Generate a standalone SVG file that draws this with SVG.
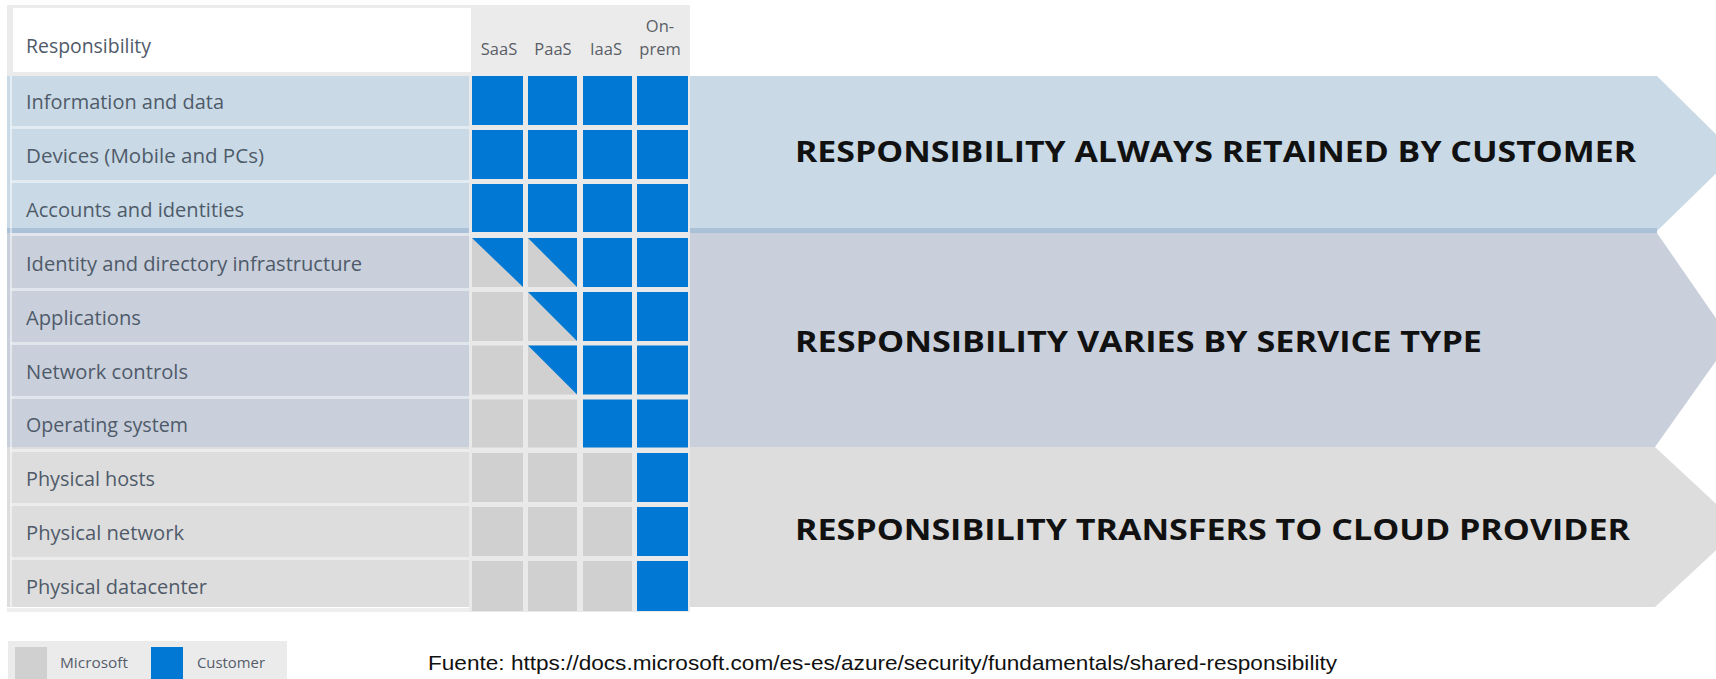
<svg xmlns="http://www.w3.org/2000/svg" width="1716" height="679" viewBox="0 0 1716 679">
<style>
.lbl{font-family:"Open Sans","Noto Sans",sans-serif;font-size:19.5px;fill:#4f5a69}
.col{font-family:"Open Sans","Noto Sans",sans-serif;font-size:16.5px;fill:#5a5e66;text-anchor:middle}
.head{font-family:"Open Sans","Noto Sans",sans-serif;font-size:29px;font-weight:700;fill:#111}
.leg{font-family:"Open Sans","Noto Sans",sans-serif;font-size:15px;fill:#555d6b}
.c{fill:#0078d4}
.g{fill:#d0d0d0}
.sep{fill:#ffffff;fill-opacity:0.45}
</style>
<rect width="1716" height="679" fill="#ffffff"/>

<g id="bands">
  <polygon id="band-customer" points="7,76 1657,76 1736,154 1657,231 7,231" fill="#c9dae6"/>
  <polygon id="band-varies" points="7,233 1657,233 1731,340 1655,447 7,447" fill="#c9d0dc"/>
  <polygon id="band-provider" points="7,447 1655,447 1741,527 1655,607 7,607" fill="#dddddd"/>
  <rect x="7" y="228" width="1650" height="5" fill="#aac1d7"/>
</g>

<g id="header">
  <rect x="7" y="5" width="683" height="71" fill="#ebebeb"/>
  <rect x="13" y="8" width="458" height="64" fill="#ffffff"/>
  <text class="lbl" x="26" y="53" textLength="125" lengthAdjust="spacingAndGlyphs">Responsibility</text>
  <text class="col" x="499" y="55">SaaS</text>
  <text class="col" x="553" y="55">PaaS</text>
  <text class="col" x="606" y="55">IaaS</text>
  <text class="col" x="660" y="32">On-</text>
  <text class="col" x="660" y="55">prem</text>
</g>

<g id="row-separators">
  <rect x="10" y="76" width="2" height="531" fill="#ffffff" fill-opacity="0.5"/>
  <rect class="sep" x="11" y="126" width="460" height="3"/>
  <rect class="sep" x="11" y="180" width="460" height="3"/>
  <rect class="sep" x="11" y="233" width="460" height="3"/>
  <rect class="sep" x="11" y="288" width="460" height="3"/>
  <rect class="sep" x="11" y="342" width="460" height="3"/>
  <rect class="sep" x="11" y="396" width="460" height="3"/>
  <rect class="sep" x="11" y="449" width="460" height="3"/>
  <rect class="sep" x="11" y="503" width="460" height="3"/>
  <rect class="sep" x="11" y="557" width="460" height="3"/>
  <rect x="7" y="608" width="683" height="4" fill="#eeeeee"/>
</g>

<g id="grid">
  <rect x="469" y="76" width="221" height="536" fill="#e9e9e9"/>
</g>

<g id="row-information">
  <text class="lbl" x="26" y="109" textLength="198" lengthAdjust="spacingAndGlyphs">Information and data</text>
  <rect class="c" x="472" y="76" width="51" height="49"/><rect class="c" x="528" y="76" width="49" height="49"/><rect class="c" x="583" y="76" width="49" height="49"/><rect class="c" x="637" y="76" width="51" height="49"/>
</g>
<g id="row-devices">
  <text class="lbl" x="26" y="163" textLength="238" lengthAdjust="spacingAndGlyphs">Devices (Mobile and PCs)</text>
  <rect class="c" x="472" y="130" width="51" height="49"/><rect class="c" x="528" y="130" width="49" height="49"/><rect class="c" x="583" y="130" width="49" height="49"/><rect class="c" x="637" y="130" width="51" height="49"/>
</g>
<g id="row-accounts">
  <text class="lbl" x="26" y="217" textLength="218" lengthAdjust="spacingAndGlyphs">Accounts and identities</text>
  <rect class="c" x="472" y="184" width="51" height="48"/><rect class="c" x="528" y="184" width="49" height="48"/><rect class="c" x="583" y="184" width="49" height="48"/><rect class="c" x="637" y="184" width="51" height="48"/>
</g>
<g id="row-identity">
  <text class="lbl" x="26" y="271" textLength="336" lengthAdjust="spacingAndGlyphs">Identity and directory infrastructure</text>
  <rect class="g" x="472" y="238" width="51" height="49"/><polygon class="c" points="472,238 523,238 523,287"/>
  <rect class="g" x="528" y="238" width="49" height="49"/><polygon class="c" points="528,238 577,238 577,287"/>
  <rect class="c" x="583" y="238" width="49" height="49"/><rect class="c" x="637" y="238" width="51" height="49"/>
</g>
<g id="row-applications">
  <text class="lbl" x="26" y="325" textLength="115" lengthAdjust="spacingAndGlyphs">Applications</text>
  <rect class="g" x="472" y="292" width="51" height="49"/>
  <rect class="g" x="528" y="292" width="49" height="49"/><polygon class="c" points="528,292 577,292 577,341"/>
  <rect class="c" x="583" y="292" width="49" height="49"/><rect class="c" x="637" y="292" width="51" height="49"/>
</g>
<g id="row-network">
  <text class="lbl" x="26" y="379" textLength="162" lengthAdjust="spacingAndGlyphs">Network controls</text>
  <rect class="g" x="472" y="345.5" width="51" height="49"/>
  <rect class="g" x="528" y="345.5" width="49" height="49"/><polygon class="c" points="528,345.5 577,345.5 577,394.5"/>
  <rect class="c" x="583" y="345.5" width="49" height="49"/><rect class="c" x="637" y="345.5" width="51" height="49"/>
</g>
<g id="row-os">
  <text class="lbl" x="26" y="432" textLength="162" lengthAdjust="spacingAndGlyphs">Operating system</text>
  <rect class="g" x="472" y="399.5" width="51" height="48"/><rect class="g" x="528" y="399.5" width="49" height="48"/>
  <rect class="c" x="583" y="399.5" width="49" height="48"/><rect class="c" x="637" y="399.5" width="51" height="48"/>
</g>
<g id="row-hosts">
  <text class="lbl" x="26" y="486" textLength="129" lengthAdjust="spacingAndGlyphs">Physical hosts</text>
  <rect class="g" x="472" y="453" width="51" height="49"/><rect class="g" x="528" y="453" width="49" height="49"/><rect class="g" x="583" y="453" width="49" height="49"/>
  <rect class="c" x="637" y="453" width="51" height="49"/>
</g>
<g id="row-physnet">
  <text class="lbl" x="26" y="540" textLength="158" lengthAdjust="spacingAndGlyphs">Physical network</text>
  <rect class="g" x="472" y="507" width="51" height="49"/><rect class="g" x="528" y="507" width="49" height="49"/><rect class="g" x="583" y="507" width="49" height="49"/>
  <rect class="c" x="637" y="507" width="51" height="49"/>
</g>
<g id="row-datacenter">
  <text class="lbl" x="26" y="594" textLength="181" lengthAdjust="spacingAndGlyphs">Physical datacenter</text>
  <rect class="g" x="472" y="561" width="51" height="50"/><rect class="g" x="528" y="561" width="49" height="50"/><rect class="g" x="583" y="561" width="49" height="50"/>
  <rect class="c" x="637" y="561" width="51" height="50"/>
</g>

<g id="headings">
  <text class="head" x="795" y="162" textLength="841" lengthAdjust="spacingAndGlyphs">RESPONSIBILITY ALWAYS RETAINED BY CUSTOMER</text>
  <text class="head" x="795" y="352" textLength="687" lengthAdjust="spacingAndGlyphs">RESPONSIBILITY VARIES BY SERVICE TYPE</text>
  <text class="head" x="795" y="540" textLength="835" lengthAdjust="spacingAndGlyphs">RESPONSIBILITY TRANSFERS TO CLOUD PROVIDER</text>
</g>

<g id="legend">
  <rect x="8" y="641" width="279" height="40" fill="#ebebeb"/>
  <rect class="g" x="15" y="647" width="32" height="34"/>
  <text class="leg" x="60" y="668" textLength="68" lengthAdjust="spacingAndGlyphs">Microsoft</text>
  <rect class="c" x="151" y="647" width="32" height="34"/>
  <text class="leg" x="197" y="668" textLength="68" lengthAdjust="spacingAndGlyphs">Customer</text>
</g>

<g id="source">
  <text x="428" y="670" font-family="Liberation Sans, Arial, sans-serif" font-size="21" fill="#111" textLength="909" lengthAdjust="spacingAndGlyphs">Fuente: https://docs.microsoft.com/es-es/azure/security/fundamentals/shared-responsibility</text>
</g>
</svg>
